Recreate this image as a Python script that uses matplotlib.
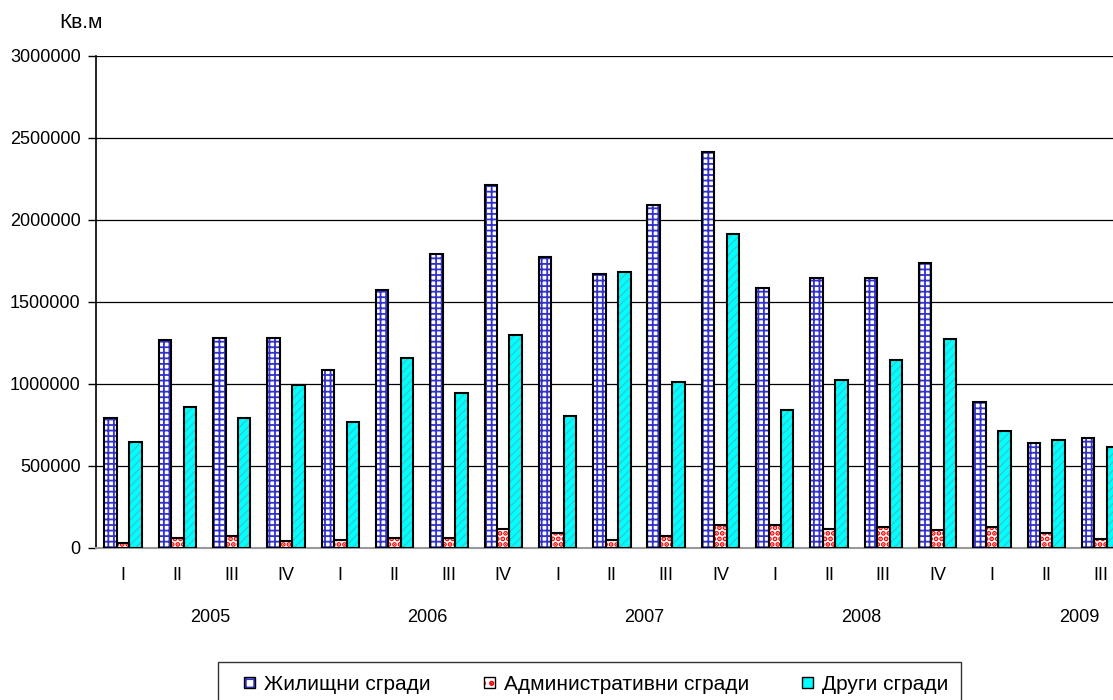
#! /usr/bin/env python3

import matplotlib
matplotlib.use("Agg")
import matplotlib.pyplot as plt
from matplotlib.legend_handler import HandlerPatch
from matplotlib.colors import to_rgba
import numpy as np

plt.rcParams['font.family'] = ['Liberation Sans', 'DejaVu Sans']
plt.rcParams['hatch.linewidth'] = 1.0

# data (sq.m per quarter)
years = ['2005', '2006', '2007', '2008', '2009']
quarters = ['I', 'II', 'III', 'IV'] * 4 + ['I', 'II', 'III']
residential = [793000, 1268000, 1280000, 1280000,
               1085000, 1573000, 1793000, 2213000,
               1774000, 1671000, 2091000, 2415000,
               1585000, 1646000, 1646000, 1738000,
               890000, 640000, 671000]
administrative = [30000, 61000, 73000, 43000,
                  49000, 61000, 61000, 116000,
                  91000, 49000, 73000, 140000,
                  140000, 116000, 128000, 110000,
                  128000, 91000, 55000]
other = [646000, 860000, 793000, 994000,
         768000, 1159000, 945000, 1299000,
         805000, 1683000, 1012000, 1915000,
         841000, 1024000, 1146000, 1274000,
         713000, 658000, 616000]
series_names = ['Жилищни сгради', 'Административни сгради', 'Други сгради']

W, H = 1113, 700
GW = 54.3  # px per quarter group
fig = plt.figure(figsize=(W / 100, H / 100), dpi=100)
ax = fig.add_axes([96 / W, 1 - 548 / H, 19 * GW / W, 492 / H])

x = np.arange(len(quarters))
bw = 0.229
styles = [
    dict(face='white', hatch='+++', hcol='#3333cc', hlw=1.3),
    dict(face='white', hatch='...', hcol='#ff0000', hlw=2.5),
    dict(face='#00ffff', hatch='////', hcol='#33cccc', hlw=1.0),
]
handles = []
for i, (vals, st) in enumerate(zip([residential, administrative, other], styles)):
    pos = x + (i - 1) * bw
    with plt.rc_context({'hatch.linewidth': st['hlw']}):
        # hatch layer (hatch takes the edge colour)
        ax.bar(pos, vals, bw, color=st['face'], edgecolor=st['hcol'], hatch=st['hatch'],
               linewidth=0, zorder=3)
        h = plt.Rectangle((0, 0), 1, 1, facecolor=st['face'], edgecolor='black',
                          hatch=st['hatch'][:2], linewidth=1.0)
    h._hatch_color = to_rgba(st['hcol'])
    handles.append(h)
    # outline layer
    ax.bar(pos, vals, bw, fill=False, edgecolor='black', linewidth=1.5, zorder=4)

ax.set_xlim(-0.5, len(quarters) - 0.5)
ax.set_ylim(0, 3000000)
ax.set_yticks(np.arange(0, 3000001, 500000))
ax.yaxis.set_major_formatter(plt.FuncFormatter(lambda v, _: f"{int(v)}"))
ax.grid(axis='y', color='black', linewidth=0.9, zorder=0)
ax.set_axisbelow(True)
ax.set_xticks(x)
ax.set_xticklabels(quarters)
ax.tick_params(axis='x', length=0, pad=14, labelsize=13)
ax.tick_params(axis='y', length=6, width=1, direction='out', labelsize=13, pad=5)

for s in ['top', 'right']:
    ax.spines[s].set_visible(False)
ax.spines['left'].set_color('black')
ax.spines['left'].set_linewidth(1.2)
ax.spines['bottom'].set_color('#999999')
ax.spines['bottom'].set_linewidth(1.5)

# year labels under the quarter labels
for k, yr in enumerate(years):
    fig.text((96 + (1.6 + 4 * k + 0.5) * GW) / W, 1 - 617 / H, yr,
             fontsize=13, ha='center', va='center')

fig.text(81 / W, 1 - 23 / H, 'Кв.м', fontsize=15, ha='center', va='center')


def small_square(legend, orig_handle, xdescent, ydescent, width, height, fontsize):
    # 11px square sitting at the right end of the handle box
    s = 11 * 0.72
    p = plt.Rectangle((-xdescent + width - s, -ydescent + (height - s) / 2), s, s)
    if hasattr(orig_handle, '_hatch_linewidth'):
        p._hatch_linewidth = orig_handle._hatch_linewidth
    return p


sq = HandlerPatch(patch_func=small_square)
leg = fig.legend(handles, series_names, loc='upper left', ncol=3,
                 bbox_to_anchor=(218 / W, 1 - 662 / H), fontsize=15,
                 frameon=True, fancybox=False, edgecolor='black',
                 handlelength=1.18, handleheight=0.7, handletextpad=0.43,
                 columnspacing=1.9, borderpad=0.6, borderaxespad=0,
                 handler_map={h: sq for h in handles})
leg.get_frame().set_linewidth(1.0)

fig.savefig('out.png', dpi=100)
